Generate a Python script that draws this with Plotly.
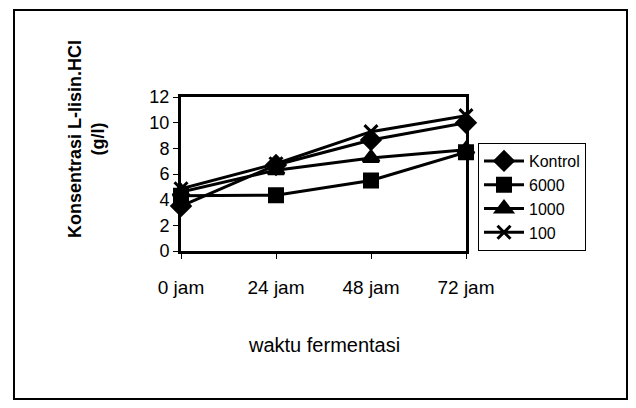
import plotly.graph_objects as go

# data
waktu = ["0 jam", "24 jam", "48 jam", "72 jam"]
kontrol = [3.5, 6.7, 8.65, 10.0]
k6000 = [4.3, 4.35, 5.5, 7.7]
k1000 = [4.6, 6.3, 7.25, 7.9]
k100 = [4.85, 6.8, 9.3, 10.55]

series = [
    ("Kontrol", kontrol, "diamond", 14),
    ("6000", k6000, "square", 13),
    ("1000", k1000, "triangle-up", 14),
    ("100", k100, "x-thin", 13),
]

# page body has an 8px margin, so positions below are screen px minus 8
OFF = 8
W, H = 620, 392
L, R, T, B = 181 - OFF, 466 - OFF, 97 - OFF, 251 - OFF   # plot area
pw, ph = R - L, B - T


def px(x):
    return (x - OFF - L) / pw


def py(y):
    return (B - (y - OFF)) / ph


FONT = "Liberation Sans, Arial, sans-serif"

fig = go.Figure()
xs = list(range(len(waktu)))
for name, vals, sym, size in series:
    fig.add_trace(go.Scatter(
        x=xs, y=vals, name=name, mode="lines+markers",
        line=dict(color="black", width=3),
        marker=dict(symbol=sym, size=size, color="black",
                    line=dict(color="black", width=3)),
        cliponaxis=False,
    ))

fig.update_layout(
    width=W, height=H,
    margin=dict(l=L, r=W - R, t=T, b=H - B, pad=0),
    paper_bgcolor="white", plot_bgcolor="white",
    font=dict(family=FONT, size=18, color="black"),
    showlegend=True,
    legend=dict(
        x=px(478), y=py(143), xanchor="left", yanchor="top",
        bordercolor="black", borderwidth=1, bgcolor="white",
        font=dict(family=FONT, size=16, color="black"),
        tracegroupgap=0, itemwidth=40,
    ),
)

fig.update_xaxes(
    range=[0, 3], tickvals=xs, ticktext=waktu,
    showgrid=False, zeroline=False,
    showline=True, linecolor="black", linewidth=3, mirror=True,
    ticks="outside", ticklen=5, tickwidth=1, tickcolor="black",
    ticklabelstandoff=12,
    tickfont=dict(family=FONT, size=19),
)
fig.update_yaxes(
    range=[0, 12], dtick=2,
    showgrid=False, zeroline=False,
    showline=True, linecolor="black", linewidth=3, mirror=True,
    ticks="outside", ticklen=5, tickwidth=1, tickcolor="black",
    tickfont=dict(family=FONT, size=18),
)

# axis titles
fig.add_annotation(
    text="waktu fermentasi", xref="paper", yref="paper",
    x=0.5, y=py(345), xanchor="center", yanchor="middle", showarrow=False,
    font=dict(family=FONT, size=20, color="black"),
)
fig.add_annotation(
    text="<b>Konsentrasi L-lisin.HCl</b><br><b>(g/l)</b>",
    xref="paper", yref="paper", x=px(86), y=py(139),
    xanchor="center", yanchor="middle",
    textangle=-90, showarrow=False,
    font=dict(family=FONT, size=18, color="black"),
)

# outer chart frame
fig.add_shape(
    type="rect", xref="paper", yref="paper",
    x0=px(14), x1=px(627), y0=py(399), y1=py(10),
    line=dict(color="black", width=2), layer="below",
)

fig.write_html("out.html")
